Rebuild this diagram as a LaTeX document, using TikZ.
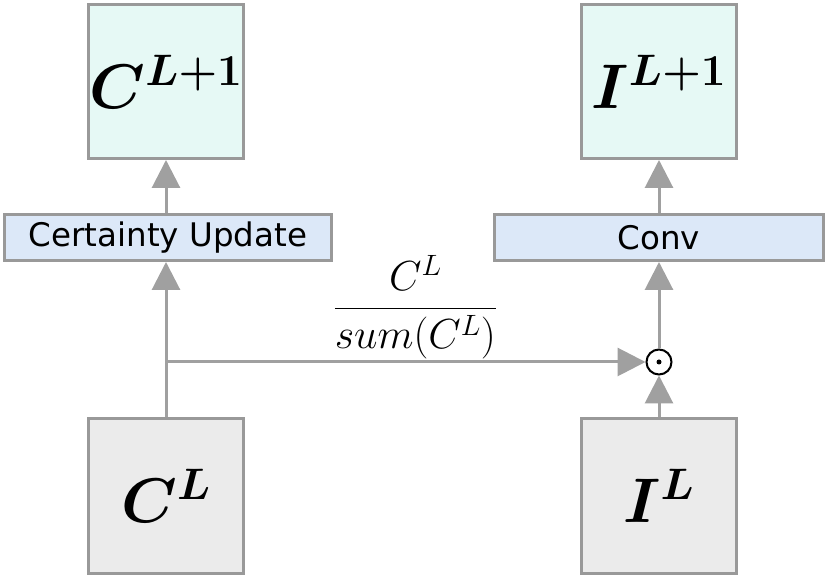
\documentclass[tikz,border=0pt]{standalone}
\usepackage{fix-cm}
\usepackage{amsmath}
\usepackage{fontspec}
\usepackage{xcolor}
\usepackage{tikz}
\usetikzlibrary{arrows.meta}
\newfontfamily\labelfont{DejaVu Sans}
\definecolor{topmint}{RGB}{230,249,245}
\definecolor{barblue}{RGB}{220,232,248}
\definecolor{basegray}{RGB}{235,235,235}
\definecolor{edgegray}{RGB}{153,153,153}
\definecolor{arrowgray}{RGB}{160,160,160}

\tikzset{
  mathbox/.style={draw=edgegray, line width=3pt, minimum width=155pt, minimum height=154pt,
    inner sep=0pt, font=\fontsize{63}{63}\selectfont\boldmath},
  opbar/.style={draw=edgegray, line width=3pt, minimum height=46pt, inner sep=0pt,
    fill=barblue, font=\labelfont\fontsize{32.5}{33}\selectfont},
  flow/.style={draw=arrowgray, line width=3pt, -{Triangle[length=28pt,width=28pt]}},
}

\begin{document}
\begin{tikzpicture}[x=1pt, y=1pt]
  \useasboundingbox (0,0) rectangle (830,577);
  % outputs
  \node[mathbox, fill=topmint] (cnext) at (166,495.5) {$C^{L+1}$};
  \node[mathbox, fill=topmint] (inext) at (659,495.5) {$I^{L+1}$};
  % operations
  \node[opbar, minimum width=327pt] (update) at (168,339.5) {Certainty Update};
  \node[opbar, minimum width=329pt] (conv) at (659,339.5) {Conv};
  % inputs
  \node[mathbox, fill=basegray, minimum height=155pt] (cprev) at (166,81) {$C^L$};
  \node[mathbox, fill=basegray, minimum height=155pt] (iprev) at (659,81) {$I^L$};
  % elementwise product
  \node[circle, draw=black, line width=2pt, minimum size=25pt, inner sep=0pt] (mult) at (659,215) {};
  \fill (mult.center) circle (2.5pt);
  \coordinate (split) at (cprev.north |- mult.west);

  \draw[flow] (cprev.north) -- (cprev.north |- update.south);
  \draw[flow] (cnext.south |- update.north) -- (cnext.south);
  \draw[flow] (split) -- node[pos=0.52, above=2pt, inner sep=0pt, font=\fontsize{42}{50}\selectfont]
    {$\displaystyle\frac{C^L}{sum(C^L)}$} (mult.west);
  \draw[flow] (iprev.north) -- (mult.south);
  \draw[flow] (mult.north) -- (conv.south);
  \draw[flow] (conv.north) -- (inext.south);
\end{tikzpicture}
\end{document}
